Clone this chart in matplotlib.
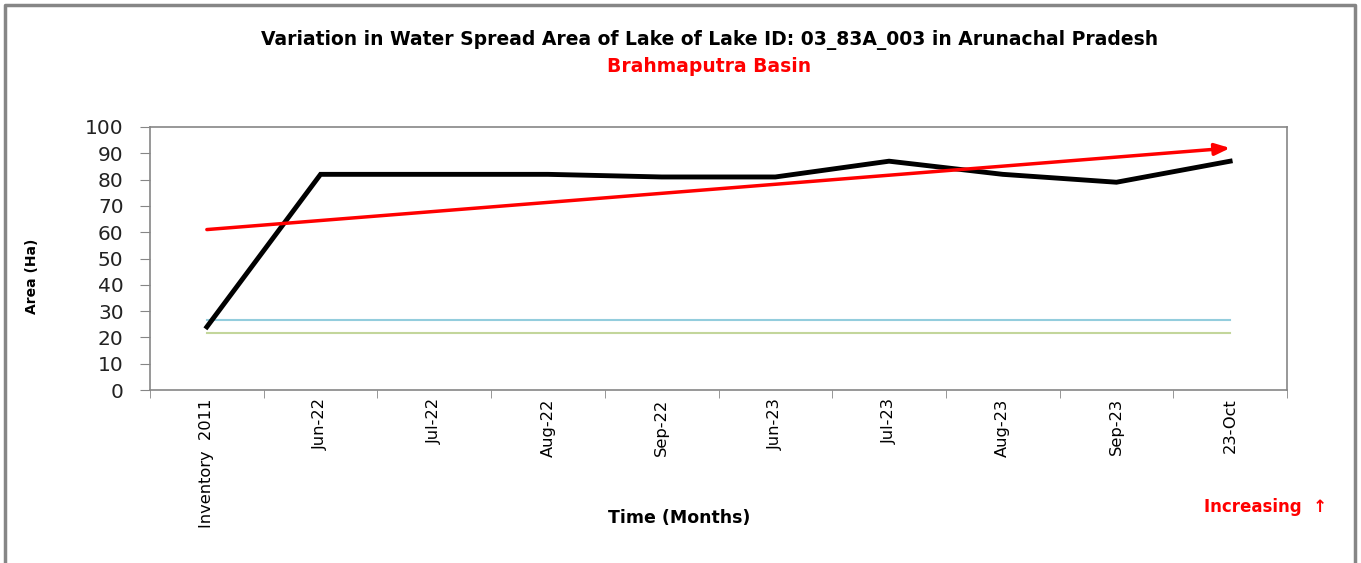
import matplotlib
matplotlib.use("Agg")
import matplotlib.pyplot as plt
from matplotlib.lines import Line2D
import numpy as np

# chart data
months = ["Inventory  2011", "Jun-22", "Jul-22", "Aug-22", "Sep-22",
          "Jun-23", "Jul-23", "Aug-23", "Sep-23", "23-Oct"]
area = [24, 82, 82, 82, 81, 81, 87, 82, 79, 87]
blue_level = 26.6
green_level = 21.7
trend_start = 61
trend_end = 92

plt.rcParams['font.family'] = ['DejaVu Sans']

W, H = 1361, 563
fig = plt.figure(figsize=(W / 100, H / 100), dpi=100)
ax = fig.add_axes([150 / W, 1 - 390 / H, 1137 / W, 263 / H])

x = np.arange(len(months))
ax.plot(x, [blue_level] * len(x), color="#93cddd", lw=1.5)
ax.plot(x, [green_level] * len(x), color="#c3d69b", lw=1.5)
ax.plot(x, area, color="black", lw=3.5, solid_joinstyle="miter")
ax.annotate("", xy=(x[-1], trend_end), xytext=(x[0], trend_start),
            arrowprops=dict(arrowstyle="-|>,head_length=0.9,head_width=0.35",
                            color="red", lw=2.5, shrinkA=0, shrinkB=0))

ax.set_xlim(-0.5, len(months) - 0.5)
ax.set_ylim(0, 100)
ax.set_yticks(range(0, 101, 10))
ax.set_yticklabels([str(v) for v in range(0, 101, 10)], fontsize=14.5, color="#222222")
ax.set_xticks(x)
ax.set_xticklabels(months, rotation=90, fontsize=11.7, va="top")
ax.set_xticks(np.arange(-0.5, len(months), 1), minor=True)
ax.tick_params(axis="x", which="major", length=0, pad=6)
ax.tick_params(axis="x", which="minor", length=6, color="#868686", direction="out")
ax.tick_params(axis="y", length=7, color="#868686", direction="out", pad=12)
for s in ax.spines.values():
    s.set_color("#868686")
    s.set_linewidth(1.2)

fig.text(710 / W, 1 - 40 / H, "Variation in Water Spread Area of Lake of Lake ID: 03_83A_003 in Arunachal Pradesh",
         ha="center", va="center", fontsize=13.5, fontweight="bold")
fig.text(709 / W, 1 - 67 / H, "Brahmaputra Basin", ha="center", va="center",
         fontsize=13.5, fontweight="bold", color="red")
fig.text(32 / W, 1 - 276 / H, "Area (Ha)", rotation=90, ha="center", va="center",
         fontsize=10, fontweight="bold")
fig.text(679 / W, 1 - 518 / H, "Time (Months)", ha="center", va="center",
         fontsize=12.5, fontweight="bold")
fig.text(1266 / W, 1 - 507 / H, "Increasing  \u2191", ha="center", va="center",
         fontsize=12, fontweight="bold", color="red")

# outer frame: left, top, right edges
fx = [5 / W, 5 / W, 1355 / W, 1355 / W]
fy = [0, 1 - 5 / H, 1 - 5 / H, 0]
fig.add_artist(Line2D(fx, fy, transform=fig.transFigure, color="#868686", lw=2.5))

fig.savefig("out.png", dpi=100)
